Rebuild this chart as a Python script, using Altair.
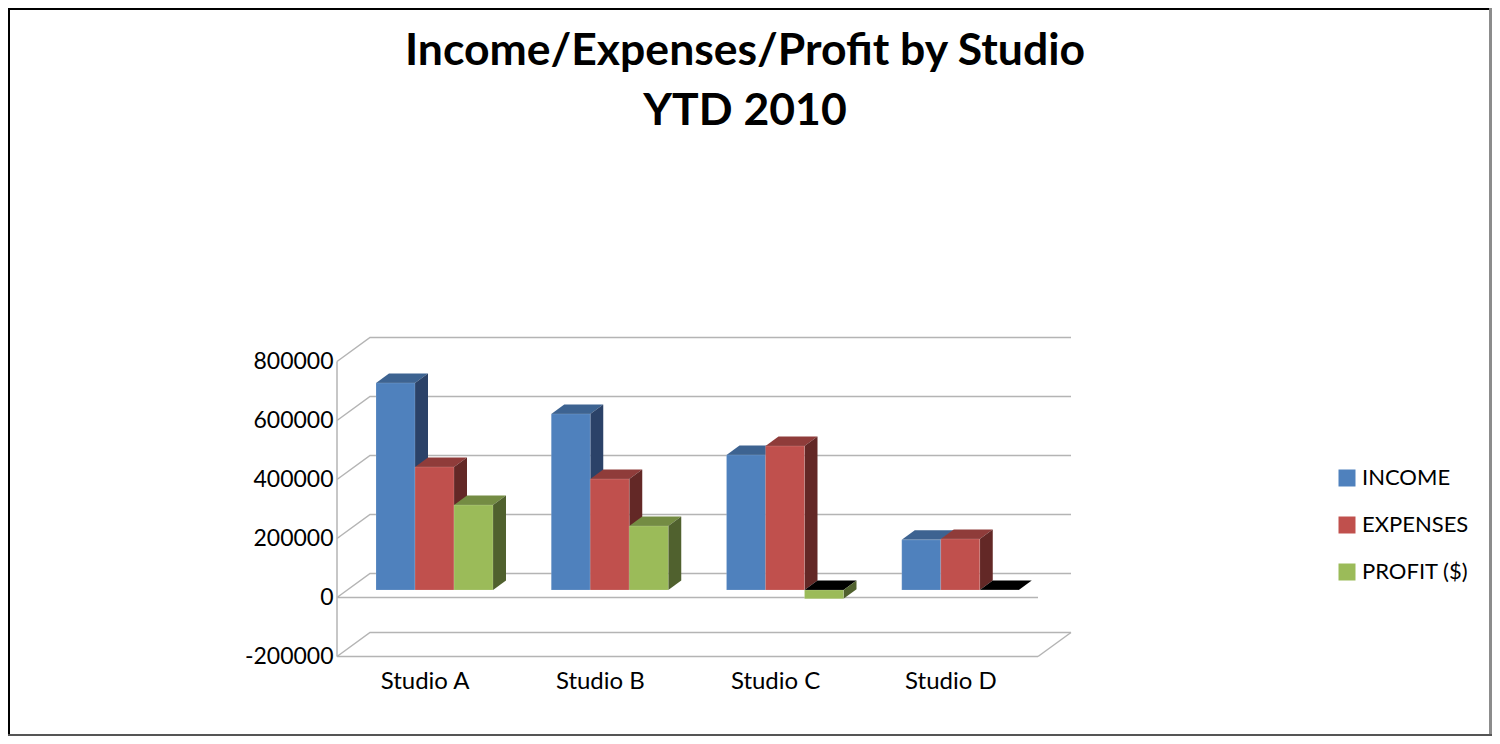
import altair as alt
import pandas as pd

studios = ["Studio A", "Studio B", "Studio C", "Studio D"]
series = ["INCOME", "EXPENSES", "PROFIT ($)"]
income = [702000, 597000, 458000, 170000]
expenses = [417000, 376000, 488000, 173000]
profit = [288000, 217000, -30000, 0]
ticks = [-200000, 0, 200000, 400000, 600000, 800000]

front_colors = ["#4f81bd", "#c0504d", "#9bbb59"]
top_colors = ["#3d6391", "#8f3c3a", "#748c43"]
side_colors = ["#2b4268", "#632826", "#50612e"]
FONT = "Lato"

# Oblique projection, expressed in data units of the two scales
UNIT_X = 175.25
UNIT_Y = 59 / 200000
WALL_DX, WALL_DY = 33 / UNIT_X, 24 / UNIT_Y
BAR_DX, BAR_DY = 13 / UNIT_X, 9.5 / UNIT_Y
PLANE_DY = 7.5 / UNIT_Y
BAR_W = 39 / UNIT_X
N = len(studios)

xs = alt.Scale(domain=[0, N], range=[329, 1030], nice=False, zero=False)
ys = alt.Scale(domain=[-200000, 800000], range=[648.5, 353.5], nice=False, zero=False)

y_axis = alt.Axis(
    values=ticks, domain=False, ticks=False, grid=False, labelFont=FONT, labelFontSize=23,
    labelColor="black", labelPadding=4, offset=-329, labelExpr="'' + datum.value",
)
x_axis = alt.Axis(
    values=[i + 0.5 for i in range(N)], domain=False, ticks=False, grid=False, labelFont=FONT,
    labelFontSize=24, labelColor="black", labelAngle=0, labelPadding=0, offset=-67,
    labelExpr="[" + ",".join(f"'{s}'" for s in studios) + "][floor(datum.value)]",
)


def X(f="x"):
    return alt.X(f"{f}:Q", scale=xs, axis=x_axis, title=None)


def Y(f="y"):
    return alt.Y(f"{f}:Q", scale=ys, axis=y_axis, title=None, stack=None)


# Wall and floor lines
grid_rows = []
for t in ticks:
    pts = [(0, t), (WALL_DX, t + WALL_DY), (N + WALL_DX, t + WALL_DY)]
    for k, (x, y) in enumerate(pts):
        grid_rows.append(dict(line=f"g{t}", k=k, x=x, y=y))
for t in [0, -200000]:
    grid_rows += [dict(line=f"f{t}", k=0, x=0, y=t), dict(line=f"f{t}", k=1, x=N, y=t)]
grid_rows += [dict(line="wall", k=0, x=0, y=ticks[0]), dict(line="wall", k=1, x=0, y=ticks[-1])]
grid_rows += [
    dict(line="edge", k=0, x=N, y=ticks[0]),
    dict(line="edge", k=1, x=N + WALL_DX, y=ticks[0] + WALL_DY),
]
grid = (
    alt.Chart(pd.DataFrame(grid_rows))
    .mark_line(color="#b4b4b4", strokeWidth=1.5, interpolate="linear")
    .encode(x=X(), y=Y(), detail="line:N", order="k:Q")
)

layers = [grid]
values = [income, expenses, profit]
for j, name in enumerate(series):
    rows = []
    for i, s in enumerate(studios):
        v = values[j][i]
        rows.append(
            dict(series=name, studio=s, value=v, x=i + BAR_W * (j + 1), x2=i + BAR_W * (j + 2),
                 y=v + PLANE_DY, y0=PLANE_DY)
        )
    df = pd.DataFrame(rows)

    top_rows, side_rows = [], []
    for r in rows:
        level = max(r["value"], 0) + PLANE_DY
        for f, (yy, off) in enumerate([(level, 0), (level + BAR_DY, BAR_DX)]):
            top_rows.append(dict(studio=r["studio"], value=r["value"], y=yy,
                                 x=r["x"] + off, x2=r["x2"] + off))
        low = min(r["value"], 0) + PLANE_DY
        for f, off in enumerate([0, 1]):
            side_rows.append(dict(studio=r["studio"], x=r["x2"] + off * BAR_DX,
                                  y=level + off * BAR_DY, y2=low + off * BAR_DY))

    top = (
        alt.Chart(pd.DataFrame(top_rows))
        .mark_area(orient="horizontal", interpolate="linear")
        .encode(
            y=Y(), x=X(), x2="x2:Q", detail="studio:N",
            color=alt.condition("datum.value <= 0", alt.value("black"), alt.value(top_colors[j])),
        )
    )
    side = (
        alt.Chart(pd.DataFrame(side_rows))
        .mark_area(orient="vertical", interpolate="linear", color=side_colors[j])
        .encode(x=X(), y=Y(), y2="y2:Q", detail="studio:N")
    )
    front = (
        alt.Chart(df)
        .mark_rect(stroke="white", strokeOpacity=0.15, strokeWidth=1)
        .encode(
            x=X(), x2="x2:Q", y=Y(), y2="y0:Q",
            color=alt.Color(
                "series:N",
                scale=alt.Scale(domain=series, range=front_colors),
                sort=series,
                legend=alt.Legend(
                    orient="none", legendX=1328, legendY=459, title=None, symbolType="square",
                    symbolSize=289, symbolStrokeWidth=0, labelFont=FONT, labelFontSize=22,
                    labelColor="black", rowPadding=25, labelOffset=4,
                ),
            ),
        )
    )
    layers += [top, side, front]

# Outer frame
dummy = alt.Chart(pd.DataFrame({"a": [0]}))
frame = [
    dummy.mark_rule(color="black", strokeWidth=2).encode(x=alt.value(0), x2=alt.value(1484), y=alt.value(1)),
    dummy.mark_rule(color="black", strokeWidth=2).encode(x=alt.value(1), y=alt.value(0), y2=alt.value(728)),
    dummy.mark_rule(color="#8c8c8c", strokeWidth=3).encode(x=alt.value(1482.5), y=alt.value(0), y2=alt.value(728)),
    dummy.mark_rule(color="#555555", strokeWidth=2).encode(x=alt.value(0), x2=alt.value(1484), y=alt.value(727)),
]

chart = (
    alt.layer(*layers, *frame)
    .properties(
        width=1484,
        height=728,
        padding=0,
        autosize=alt.AutoSizeParams(type="none"),
        title=alt.TitleParams(
            text=["Income/Expenses/Profit by Studio", "YTD 2010"],
            font=FONT, fontSize=44.5, fontWeight="bold", color="black", anchor="middle",
            frame="group", baseline="top", offset=-128, lineHeight=60.5, dx=-5,
        ),
    )
    .configure_view(stroke=None)
)

chart.save("out.html", embed_options={"renderer": "svg", "actions": False})
